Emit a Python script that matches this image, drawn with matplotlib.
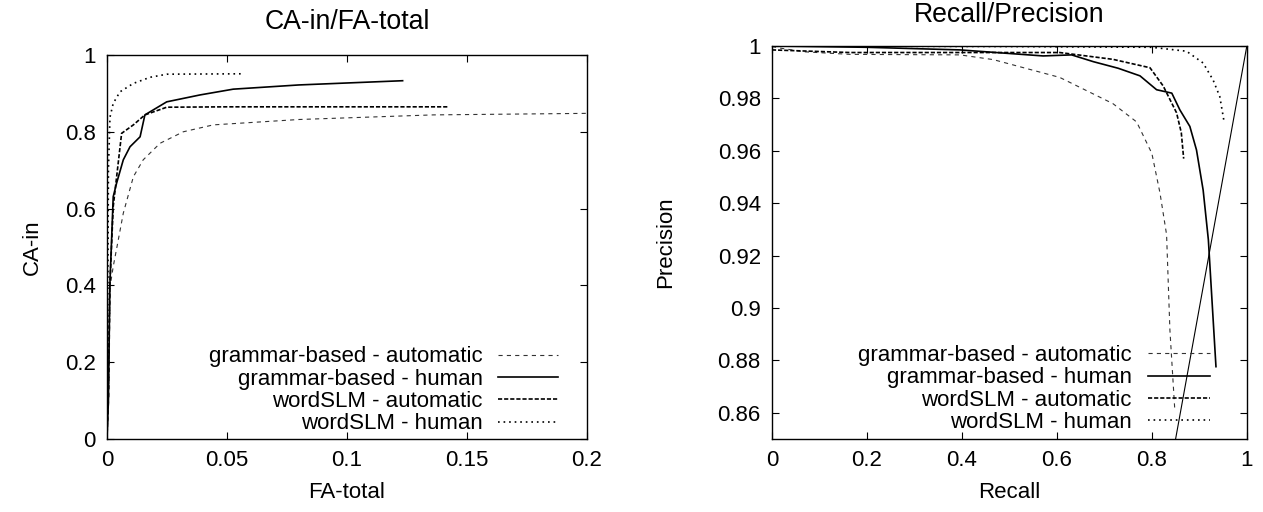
import matplotlib
matplotlib.use("Agg")
from matplotlib import pyplot as plt
from matplotlib.ticker import FuncFormatter

plt.rcParams['font.family'] = ['Liberation Sans', 'DejaVu Sans']
plt.rcParams['font.size'] = 16
plt.rcParams['lines.scale_dashes'] = False

# CA-in / FA-total curves
fa_gram_auto = [0.0, 0.0008, 0.0013, 0.0026, 0.0047, 0.0068, 0.011, 0.0151, 0.0221, 0.0318, 0.0443, 0.080, 0.136, 0.2, 0.21]
ca_gram_auto = [0.0, 0.11, 0.397, 0.449, 0.518, 0.588, 0.683, 0.727, 0.770, 0.800, 0.818, 0.832, 0.844, 0.848, 0.849]

fa_gram_human = [0.0, 0.0006, 0.0012, 0.0026, 0.004, 0.0068, 0.0096, 0.0138, 0.0158, 0.0249, 0.0388, 0.0526, 0.080, 0.1232]
ca_gram_human = [0.0, 0.10, 0.40, 0.631, 0.666, 0.727, 0.761, 0.787, 0.844, 0.878, 0.896, 0.911, 0.922, 0.933]

fa_word_auto = [0.0, 0.0005, 0.0012, 0.0026, 0.0061, 0.011, 0.0158, 0.0249, 0.05, 0.1422]
ca_word_auto = [0.0, 0.10, 0.40, 0.605, 0.796, 0.818, 0.844, 0.864, 0.865, 0.865]

fa_word_human = [0.0, 0.0003, 0.0006, 0.00125, 0.0026, 0.0054, 0.011, 0.018, 0.025, 0.0558]
ca_word_human = [0.0, 0.30, 0.70, 0.838, 0.874, 0.904, 0.926, 0.942, 0.950, 0.951]

# Recall / Precision curves
rec_gram_auto = [0.0, 0.017, 0.066, 0.164, 0.396, 0.466, 0.606, 0.718, 0.768, 0.800, 0.817, 0.831, 0.838, 0.848]
prec_gram_auto = [0.9998, 0.9992, 0.9978, 0.9968, 0.9966, 0.9948, 0.988, 0.978, 0.971, 0.959, 0.944, 0.928, 0.8916, 0.862]

rec_gram_human = [0.0, 0.2, 0.396, 0.571, 0.631, 0.677, 0.729, 0.775, 0.81, 0.842, 0.859, 0.88, 0.894, 0.908, 0.919, 0.935]
prec_gram_human = [1.0, 0.9995, 0.9985, 0.9962, 0.9966, 0.9940, 0.9915, 0.9886, 0.9833, 0.982, 0.9756, 0.9693, 0.9603, 0.945, 0.926, 0.8776]

rec_word_auto = [0.0, 0.164, 0.606, 0.718, 0.796, 0.824, 0.852, 0.862, 0.867]
prec_word_auto = [0.9985, 0.9975, 0.9975, 0.9949, 0.9917, 0.9847, 0.9745, 0.9669, 0.957]

rec_word_human = [0.0, 0.5, 0.8, 0.873, 0.908, 0.929, 0.943, 0.952]
prec_word_human = [1.0, 0.9998, 0.9995, 0.998, 0.9935, 0.987, 0.9807, 0.9712]

diag = [0.0, 1.0]

labels = ["grammar-based - automatic", "grammar-based - human",
          "wordSLM - automatic", "wordSLM - human"]
styles = [dict(color='#333333', lw=0.8, dashes=(3, 3)),
          dict(color='black', lw=1.2),
          dict(color='black', lw=1.2, dashes=(3, 1.4)),
          dict(color='black', lw=1.2, dashes=(1.2, 2.8))]

fmt = FuncFormatter(lambda v, p: '%g' % round(v, 4))

def prepara(ax):
    ax.tick_params(direction='in', length=5, width=0.8, top=True, right=True, pad=8)
    ax.xaxis.set_major_formatter(fmt)
    ax.yaxis.set_major_formatter(fmt)
    for s in ax.spines.values():
        s.set_linewidth(1.0)

fig = plt.figure(figsize=(12.63, 5.12), dpi=100)

ax1 = fig.add_axes([0.0847, 0.1426, 0.380, 0.75])
xs = [fa_gram_auto, fa_gram_human, fa_word_auto, fa_word_human]
ys = [ca_gram_auto, ca_gram_human, ca_word_auto, ca_word_human]
for x, y, l, st in zip(xs, ys, labels, styles):
    ax1.plot(x, y, label=l, **st)
ax1.set_xlim(0, 0.2)
ax1.set_ylim(0, 1)
ax1.set_xticks([0, 0.05, 0.1, 0.15, 0.2])
ax1.set_yticks([0, 0.2, 0.4, 0.6, 0.8, 1])
prepara(ax1)
ax1.set_title("CA-in/FA-total", pad=19)
ax1.set_xlabel("FA-total", labelpad=8)
ax1.set_ylabel("CA-in", labelpad=16)
ax1.legend(loc='lower right', bbox_to_anchor=(0.94, 0.012), frameon=False,
           markerfirst=False, borderaxespad=0, borderpad=0, handlelength=2.7,
           handletextpad=0.7, labelspacing=0.06)

ax2 = fig.add_axes([0.6112, 0.1426, 0.376, 0.7676])
xs = [rec_gram_auto, rec_gram_human, rec_word_auto, rec_word_human]
ys = [prec_gram_auto, prec_gram_human, prec_word_auto, prec_word_human]
for x, y, l, st in zip(xs, ys, labels, styles):
    ax2.plot(x, y, label=l, **st)
ax2.plot(diag, diag, color='black', lw=0.8)
ax2.set_xlim(0, 1)
ax2.set_ylim(0.85, 1)
ax2.set_xticks([0, 0.2, 0.4, 0.6, 0.8, 1])
ax2.set_yticks([0.86, 0.88, 0.9, 0.92, 0.94, 0.96, 0.98, 1])
prepara(ax2)
ax2.set_title("Recall/Precision", pad=17)
ax2.set_xlabel("Recall", labelpad=8)
ax2.set_ylabel("Precision", labelpad=30)
ax2.legend(loc='lower right', bbox_to_anchor=(0.922, 0.015), frameon=False,
           markerfirst=False, borderaxespad=0, borderpad=0, handlelength=2.8,
           handletextpad=0.7, labelspacing=0.06)

fig.savefig("out.png", dpi=100)
